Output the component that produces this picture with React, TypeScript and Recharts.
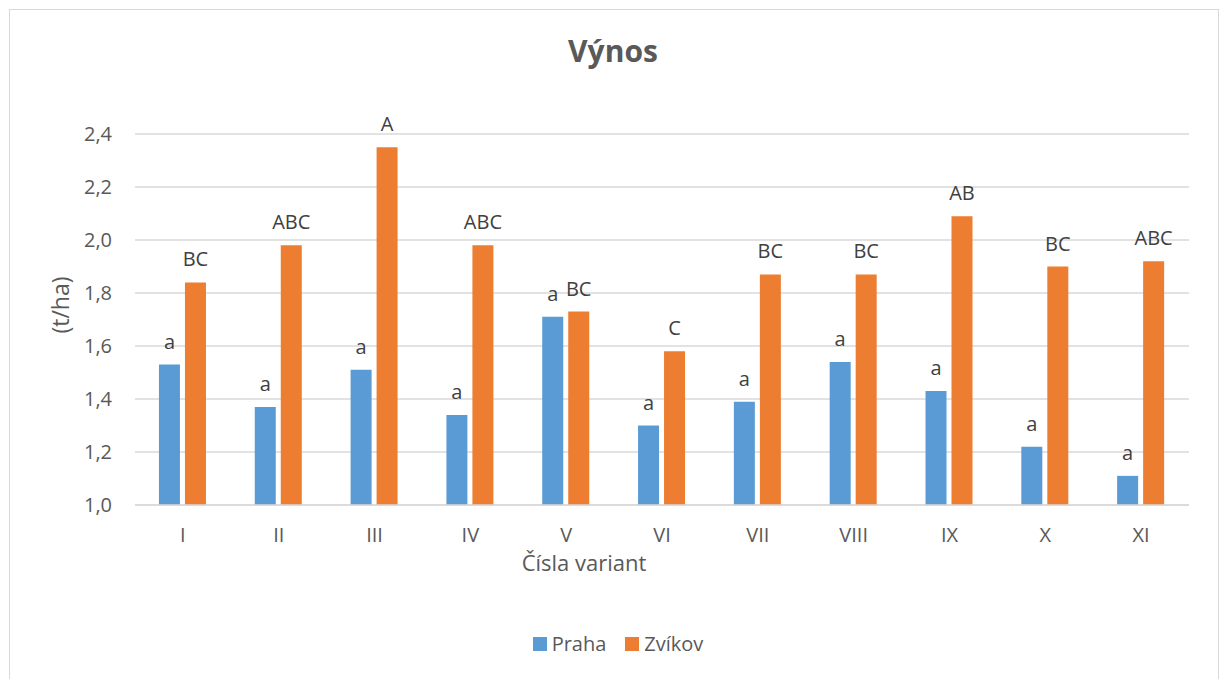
import { Bar, BarChart, CartesianGrid, Customized, LabelList, Legend, XAxis, YAxis } from "recharts";

const variants = ["I", "II", "III", "IV", "V", "VI", "VII", "VIII", "IX", "X", "XI"];
const praha = [1.53, 1.37, 1.51, 1.34, 1.71, 1.3, 1.39, 1.54, 1.43, 1.22, 1.11];
const zvikov = [1.84, 1.98, 2.35, 1.98, 1.73, 1.58, 1.87, 1.87, 2.09, 1.9, 1.92];
const prahaGroups = ["a", "a", "a", "a", "a", "a", "a", "a", "a", "a", "a"];
const zvikovGroups = ["BC", "ABC", "A", "ABC", "BC", "C", "BC", "BC", "AB", "BC", "ABC"];
const yTicks = [1.0, 1.2, 1.4, 1.6, 1.8, 2.0, 2.2, 2.4];

const data = variants.map((v, i) => ({
  name: v,
  praha: praha[i],
  zvikov: zvikov[i],
  prahaLabel: prahaGroups[i],
  zvikovLabel: zvikovGroups[i],
}));

const FONT = "'Open Sans', 'Noto Sans', sans-serif";
const TEXT = "#595959";

const legendItems = [
  { name: "Praha", color: "#5B9BD5" },
  { name: "Zvíkov", color: "#ED7D31" },
];

function ChartLegend() {
  return (
    <div style={{ display: "flex", justifyContent: "center", alignItems: "center", fontFamily: FONT, fontSize: 20, color: TEXT, paddingLeft: 12 }}>
      {legendItems.map((it, i) => (
        <div key={it.name} style={{ display: "flex", alignItems: "center", marginLeft: i ? 19 : 0 }}>
          <span style={{ display: "inline-block", width: 14, height: 14, background: it.color, marginRight: 5 }} />
          <span>{it.name}</span>
        </div>
      ))}
    </div>
  );
}

export default function App() {
  return (
    <div style={{ position: "fixed", left: 0, top: 0, width: 1224, height: 679, background: "#fff", overflow: "hidden", fontFamily: FONT }}>
      <div style={{ position: "absolute", left: 9, top: 9, width: 1208, height: 700, border: "1px solid #d9d9d9" }} />
      <BarChart
        width={1224}
        height={679}
        data={data}
        margin={{ top: 134, right: 35, left: 0, bottom: 117 }}
        barCategoryGap="25%"
        barGap={5}
        style={{ position: "absolute", left: 0, top: 0 }}
      >
        <CartesianGrid vertical={false} stroke="#d9d9d9" strokeWidth={1.3} />
        <XAxis
          dataKey="name"
          axisLine={{ stroke: "#d9d9d9", strokeWidth: 1.3 }}
          tickLine={false}
          tick={{ fill: TEXT, fontSize: 20, fontFamily: FONT }}
          tickMargin={17}
          height={30}
        />
        <YAxis
          domain={[1, 2.4]}
          ticks={yTicks}
          width={135}
          axisLine={false}
          tickLine={false}
          tickMargin={17}
          tick={{ fill: TEXT, fontSize: 20, fontFamily: FONT }}
          tickFormatter={(v: number) => v.toFixed(1).replace(".", ",")}
        />
        <Legend
          content={() => <ChartLegend />}
          wrapperStyle={{ position: "absolute", top: 630, left: 0, width: 1224 }}
        />
        <Bar dataKey="praha" name="Praha" fill="#5B9BD5" isAnimationActive={false}>
          <LabelList dataKey="prahaLabel" position="top" offset={16} fill="#404040" fontSize={20} fontFamily={FONT} />
        </Bar>
        <Bar dataKey="zvikov" name="Zvíkov" fill="#ED7D31" isAnimationActive={false}>
          <LabelList dataKey="zvikovLabel" position="top" offset={16} fill="#404040" fontSize={20} fontFamily={FONT} />
        </Bar>
        <Customized
          component={() => (
            <g fontFamily={FONT} fill={TEXT}>
              <text x={613} y={62} textAnchor="middle" fontSize={30} fontWeight="bold">
                Výnos
              </text>
              <text x={584} y={571} textAnchor="middle" fontSize={22}>
                Čísla variant
              </text>
              <text x={60} y={305} textAnchor="middle" dominantBaseline="central" fontSize={23} transform="rotate(-90, 60, 305)">
                (t/ha)
              </text>
            </g>
          )}
        />
      </BarChart>
    </div>
  );
}
